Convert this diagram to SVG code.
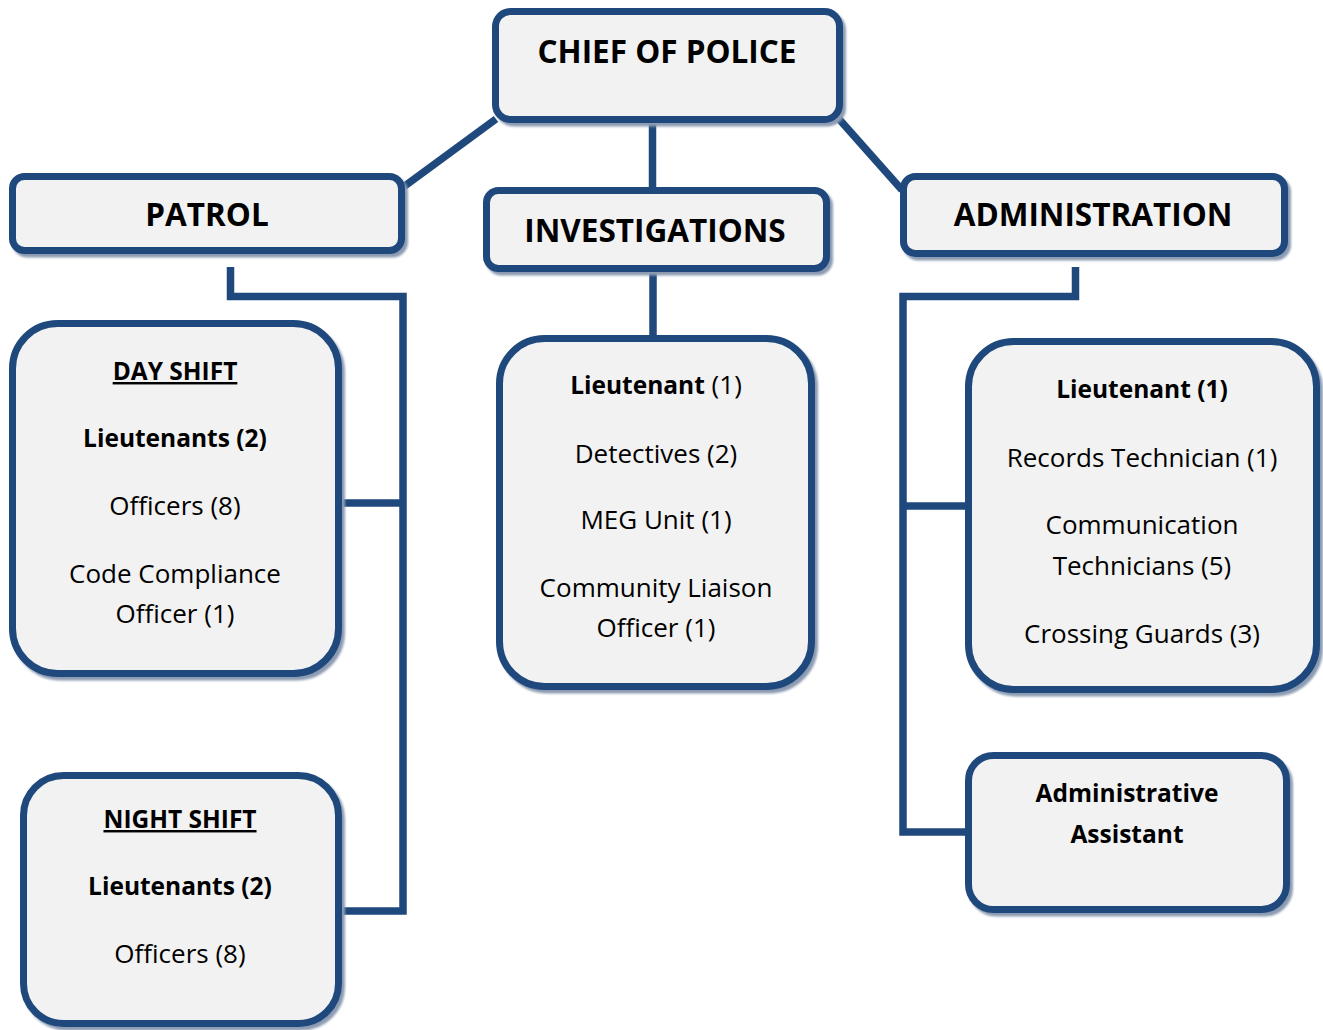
<svg xmlns="http://www.w3.org/2000/svg" width="1323" height="1030" viewBox="0 0 1323 1030">
  <defs>
    <filter id="sh" x="-5%" y="-5%" width="115%" height="120%">
      <feGaussianBlur stdDeviation="0.8"/>
    </filter>
  </defs>
  <style>
    .box { fill: #F2F2F2; stroke: #1F497D; stroke-width: 7; }
    .shadow { fill: none; stroke: #8C9BB2; stroke-width: 7; filter: url(#sh); }
    .conn { fill: none; stroke: #1F497D; stroke-width: 7.5; stroke-linejoin: miter; stroke-linecap: butt; }
    .h { font-family: "Open Sans", "Noto Sans", "DejaVu Sans", sans-serif; font-weight: 700; font-size: 31.5px; fill: #000; text-anchor: middle; }
    .t { font-family: "Open Sans", "Noto Sans", "DejaVu Sans", sans-serif; font-size: 26px; fill: #000; text-anchor: middle; }
    .b { font-weight: 700; font-size: 24.5px; }
    .u { text-decoration: underline; }
  </style>

  <g id="connectors">
    <line class="conn" x1="496" y1="119" x2="402" y2="188"/>
    <line class="conn" x1="839" y1="119" x2="902" y2="190"/>
    <line class="conn" x1="652.5" y1="122" x2="652.5" y2="191"/>
    <line class="conn" x1="653" y1="271" x2="653" y2="339"/>
    <path class="conn" d="M230.5 267 V296.5 H403 V911 H340"/>
    <path class="conn" d="M340 503 H403"/>
    <path class="conn" d="M1075.5 267 V296.5 H903 V832 H969"/>
    <path class="conn" d="M903 506 H969"/>
  </g>

  <g id="chief">
    <rect class="shadow" x="498.5" y="15" width="344" height="108" rx="15"/>
    <rect class="box" x="495.5" y="11.5" width="344" height="108" rx="15"/>
    <text class="h" x="667" y="63">CHIEF OF POLICE</text>
  </g>

  <g id="patrol">
    <rect class="shadow" x="15.5" y="180" width="389" height="74" rx="12"/>
    <rect class="box" x="12.5" y="176.5" width="389" height="74" rx="12"/>
    <text class="h" x="207" y="226">PATROL</text>
  </g>

  <g id="investigations">
    <rect class="shadow" x="489.5" y="194" width="340" height="78" rx="12"/>
    <rect class="box" x="486.5" y="190.5" width="340" height="78" rx="12"/>
    <text class="h" x="655" y="242">INVESTIGATIONS</text>
  </g>

  <g id="administration">
    <rect class="shadow" x="906.5" y="180" width="381" height="77" rx="12"/>
    <rect class="box" x="903.5" y="176.5" width="381" height="77" rx="12"/>
    <text class="h" x="1093" y="226">ADMINISTRATION</text>
  </g>

  <g id="day-shift">
    <rect class="shadow" x="15.5" y="327" width="326" height="350" rx="45"/>
    <rect class="box" x="12.5" y="323.5" width="326" height="350" rx="45"/>
    <text class="t b u" x="175" y="380">DAY SHIFT</text>
    <text class="t b" x="175" y="447">Lieutenants (2)</text>
    <text class="t" x="175" y="515">Officers (8)</text>
    <text class="t" x="175" y="583">Code Compliance</text>
    <text class="t" x="175" y="623">Officer (1)</text>
  </g>

  <g id="night-shift">
    <rect class="shadow" x="26.5" y="779" width="315" height="248" rx="40"/>
    <rect class="box" x="23.5" y="775.5" width="315" height="248" rx="40"/>
    <text class="t b u" x="180" y="828">NIGHT SHIFT</text>
    <text class="t b" x="180" y="895">Lieutenants (2)</text>
    <text class="t" x="180" y="963">Officers (8)</text>
  </g>

  <g id="investigations-staff">
    <rect class="shadow" x="502.5" y="342" width="312" height="348" rx="45"/>
    <rect class="box" x="499.5" y="338.5" width="312" height="348" rx="45"/>
    <text class="t" x="656" y="394"><tspan class="b">Lieutenant</tspan> (1)</text>
    <text class="t" x="656" y="463">Detectives (2)</text>
    <text class="t" x="656" y="529">MEG Unit (1)</text>
    <text class="t" x="656" y="597">Community Liaison</text>
    <text class="t" x="656" y="637">Officer (1)</text>
  </g>

  <g id="admin-staff">
    <rect class="shadow" x="971.5" y="345" width="348" height="348" rx="45"/>
    <rect class="box" x="968.5" y="341.5" width="348" height="348" rx="45"/>
    <text class="t b" x="1142" y="398">Lieutenant (1)</text>
    <text class="t" x="1142" y="467">Records Technician (1)</text>
    <text class="t" x="1142" y="534">Communication</text>
    <text class="t" x="1142" y="575">Technicians (5)</text>
    <text class="t" x="1142" y="643">Crossing Guards (3)</text>
  </g>

  <g id="admin-assistant">
    <rect class="shadow" x="971.5" y="759" width="318" height="154" rx="25"/>
    <rect class="box" x="968.5" y="755.5" width="318" height="154" rx="25"/>
    <text class="t b" x="1127" y="802">Administrative</text>
    <text class="t b" x="1127" y="843">Assistant</text>
  </g>
</svg>
